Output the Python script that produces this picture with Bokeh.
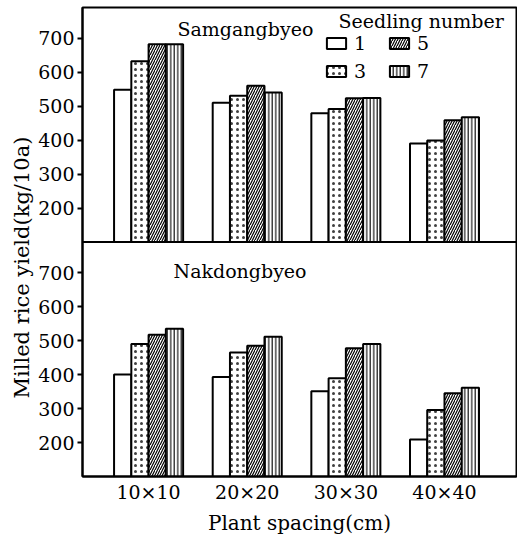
import math
from bokeh.plotting import figure
from bokeh.models import (Range1d, FixedTicker, Span, Label, Legend, LegendItem,
                          ColumnDataSource, Title)
from bokeh.embed import file_html
from bokeh.resources import INLINE

# ---------------- data ----------------
spacings = ["10×10", "20×20", "30×30", "40×40"]
seedlings = ["1", "3", "5", "7"]
samgang_1 = [548, 510, 479, 390]
samgang_3 = [632, 530, 491, 399]
samgang_5 = [682, 560, 523, 458]
samgang_7 = [682, 540, 524, 467]
nakdong_1 = [400, 393, 351, 209]
nakdong_3 = [490, 465, 389, 296]
nakdong_5 = [517, 485, 477, 345]
nakdong_7 = [535, 511, 490, 361]
y_ticks = [200, 300, 400, 500, 600, 700]

BASE = 100          # value at bottom of each panel
OFF = 690           # vertical offset of the upper panel

FONT = "DejaVu Serif"
INK = "black"

p = figure(width=517, height=539, output_backend="svg", toolbar_location=None,
           x_range=Range1d(-0.67, 3.73), y_range=Range1d(BASE, BASE + 2 * OFF),
           min_border_left=82, min_border_right=1, min_border_top=7,
           min_border_bottom=63)
p.grid.visible = False
p.outline_line_color = INK
p.outline_line_width = 2
p.background_fill_color = "white"
p.border_fill_color = "white"

# styles per seedling number
styles = [
    dict(),
    dict(hatch_pattern="dot", hatch_scale=6, hatch_weight=0.5, hatch_alpha=0.75),
    dict(hatch_pattern="/", hatch_scale=5, hatch_weight=1.2),
    dict(hatch_pattern="|", hatch_scale=3.5, hatch_weight=1.1),
]
bar_w = 0.175
offsets = [-1.5 * bar_w, -0.5 * bar_w, 0.5 * bar_w, 1.5 * bar_w]

top_series = [samgang_1, samgang_3, samgang_5, samgang_7]
bot_series = [nakdong_1, nakdong_3, nakdong_5, nakdong_7]

legend_items = []
for k in range(4):
    st = styles[k]
    xs = [j + offsets[k] for j in range(len(spacings))]
    src_t = ColumnDataSource(dict(x=xs, top=[v + OFF for v in top_series[k]]))
    r = p.vbar(x="x", top="top", bottom=BASE + OFF, width=bar_w, source=src_t,
               fill_color="white", line_color=INK, line_width=2,
               hatch_color=INK, **st)
    src_b = ColumnDataSource(dict(x=xs, top=bot_series[k]))
    p.vbar(x="x", top="top", bottom=BASE, width=bar_w, source=src_b,
           fill_color="white", line_color=INK, line_width=2,
           hatch_color=INK, **st)
    legend_items.append(LegendItem(label=seedlings[k], renderers=[r]))

# separator between panels
p.add_layout(Span(location=BASE + OFF, dimension="width", line_color=INK,
                  line_width=2))

# axes
p.xaxis.ticker = FixedTicker(ticks=list(range(len(spacings))))
p.xaxis.major_label_overrides = {i: s for i, s in enumerate(spacings)}
p.xaxis.major_tick_line_color = None
p.xaxis.major_tick_in = 0
p.xaxis.major_tick_out = 0
p.xaxis.minor_tick_line_color = None
p.xaxis.minor_tick_in = 0
p.xaxis.minor_tick_out = 0
p.xaxis.axis_label = "Plant spacing(cm)"
p.xaxis.axis_label_text_font = FONT
p.xaxis.axis_label_text_font_size = "20px"
p.xaxis.axis_label_text_font_style = "normal"
p.xaxis.axis_label_text_color = INK
p.xaxis.axis_label_standoff = 5
p.xaxis.major_label_text_font = FONT
p.xaxis.major_label_text_font_size = "19px"
p.xaxis.major_label_text_color = INK
p.xaxis.major_label_standoff = 4
p.xaxis.axis_line_width = 2
p.xaxis.axis_line_color = INK

all_ticks = y_ticks + [t + OFF for t in y_ticks]
p.yaxis.ticker = FixedTicker(ticks=all_ticks)
p.yaxis.major_label_overrides = {**{t: str(t) for t in y_ticks},
                                 **{t + OFF: str(t) for t in y_ticks}}
p.yaxis.major_tick_in = 0
p.yaxis.major_tick_out = 5
p.yaxis.major_tick_line_width = 2
p.yaxis.major_tick_line_color = INK
p.yaxis.minor_tick_line_color = None
p.yaxis.minor_tick_in = 0
p.yaxis.minor_tick_out = 0
p.yaxis.major_label_text_font = FONT
p.yaxis.major_label_text_font_size = "19px"
p.yaxis.major_label_text_color = INK
p.yaxis.major_label_standoff = 3
p.yaxis.axis_line_width = 2
p.yaxis.axis_line_color = INK

# y axis title spanning both panels (drawn as a side title)
p.add_layout(Title(text="Milled rice yield(kg/10a)", align="left", offset=78,
                   text_font=FONT, text_font_size="21px", text_color=INK,
                   text_font_style="normal", standoff=4), "left")

# panel titles
p.add_layout(Label(x=95, y=448, x_units="screen", y_units="screen",
                   text="Samgangbyeo", text_baseline="middle", text_color=INK,
                   text_font=FONT, text_font_size="19px"))
p.add_layout(Label(x=91, y=206, x_units="screen", y_units="screen",
                   text="Nakdongbyeo", text_baseline="middle", text_color=INK,
                   text_font=FONT, text_font_size="19px"))

# legend
p.add_layout(Label(x=256, y=456, x_units="screen", y_units="screen",
                   text="Seedling number", text_baseline="middle", text_color=INK,
                   text_font=FONT, text_font_size="19px"))
legend = Legend(items=legend_items, location=(242, 394), orientation="vertical",
                ncols=2, glyph_width=24, glyph_height=14, label_standoff=6,
                label_width=27, spacing=6, padding=0, margin=0,
                background_fill_alpha=0, border_line_alpha=0,
                label_text_font=FONT, label_text_font_size="19px",
                label_text_color=INK)
p.add_layout(legend)

open("out.html", "w").write(file_html(p, INLINE))
